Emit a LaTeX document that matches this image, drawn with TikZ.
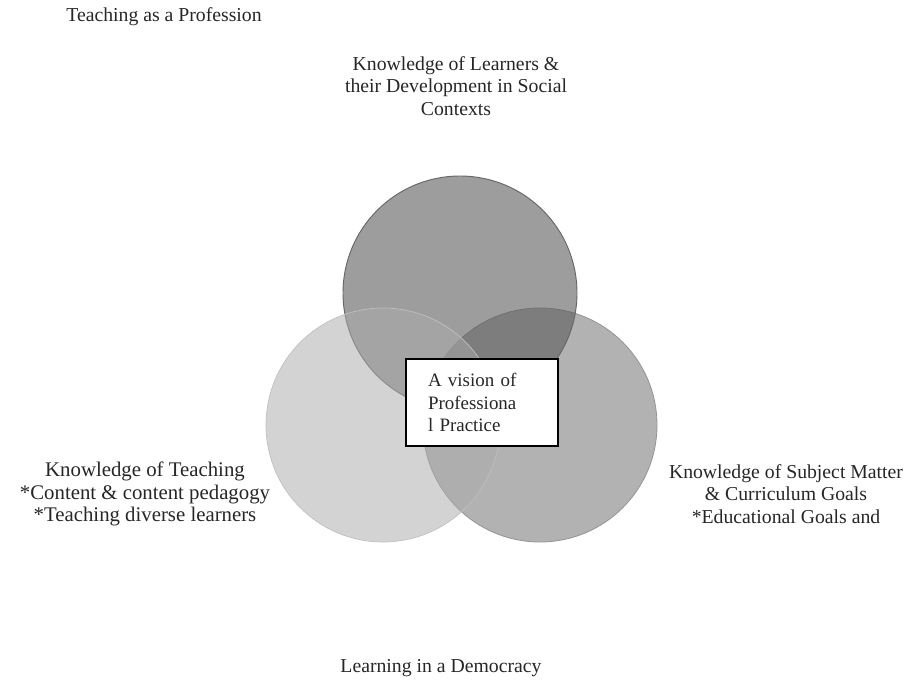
\documentclass[tikz,border=0pt]{standalone}
\usepackage{fontspec}
\setmainfont{Liberation Serif}
\usetikzlibrary{positioning}
\tikzset{%
    every node/.style={%
        font=\fontsize{14.8}{16.8}\selectfont,%
        text=black!85%
    },%
    disc/.style={%
        circle,%
        minimum size=175.5pt,%
        inner sep=0pt%
    },%
    learnersdisc/.style={%
        disc,%
        fill=black!65,%
        fill opacity=0.59,%
        draw=black!60,%
        line width=0.7pt%
    },%
    teachingdisc/.style={%
        disc,%
        fill=black!33,%
        fill opacity=0.52,%
        draw=black!25,%
        line width=0.5pt%
    },%
    subjectdisc/.style={%
        disc,%
        fill=black!30,%
        draw=black!42,%
        line width=0.6pt%
    },%
    label/.style={%
        align=center,%
        inner sep=0pt%
    },%
    visionbox/.style={%
        draw=black,%
        fill=white,%
        line width=1.2pt,%
        align=left,%
        font=\fontsize{14.2}{16.8}\selectfont,%
        text width=81pt,%
        inner xsep=16.5pt,%
        minimum height=65.25pt%
    }%
}

\begin{document}
\begin{tikzpicture}[x=0.75pt,y=-0.75pt]
    \useasboundingbox (0,0) rectangle (912,681);
    \node[subjectdisc] (subject) at (540,425) {};
    \node[learnersdisc] (learners) at (460,293) {};
    \node[teachingdisc] (teaching) at (383,425) {};
    \node[visionbox] (vision) at (482,402.5)
        {A vision of\\Professiona\\l Practice};
    \node[label] (profession) at (164,17) {Teaching as a Profession};
    \node[label] (learnerstext) at (456,86)
        {Knowledge of Learners \&\\their Development in Social\\Contexts};
    \node[label, font=\fontsize{15.6}{16.8}\selectfont] (teachingtext) at (145,494)
        {Knowledge of Teaching\\*Content \& content pedagogy\\*Teaching diverse learners};
    \node[label] (subjecttext) at (786,494)
        {Knowledge of Subject Matter\\\& Curriculum Goals\\*Educational Goals and};
    \node[label] (democracy) at (441,668) {Learning in a Democracy};
\end{tikzpicture}
\end{document}
